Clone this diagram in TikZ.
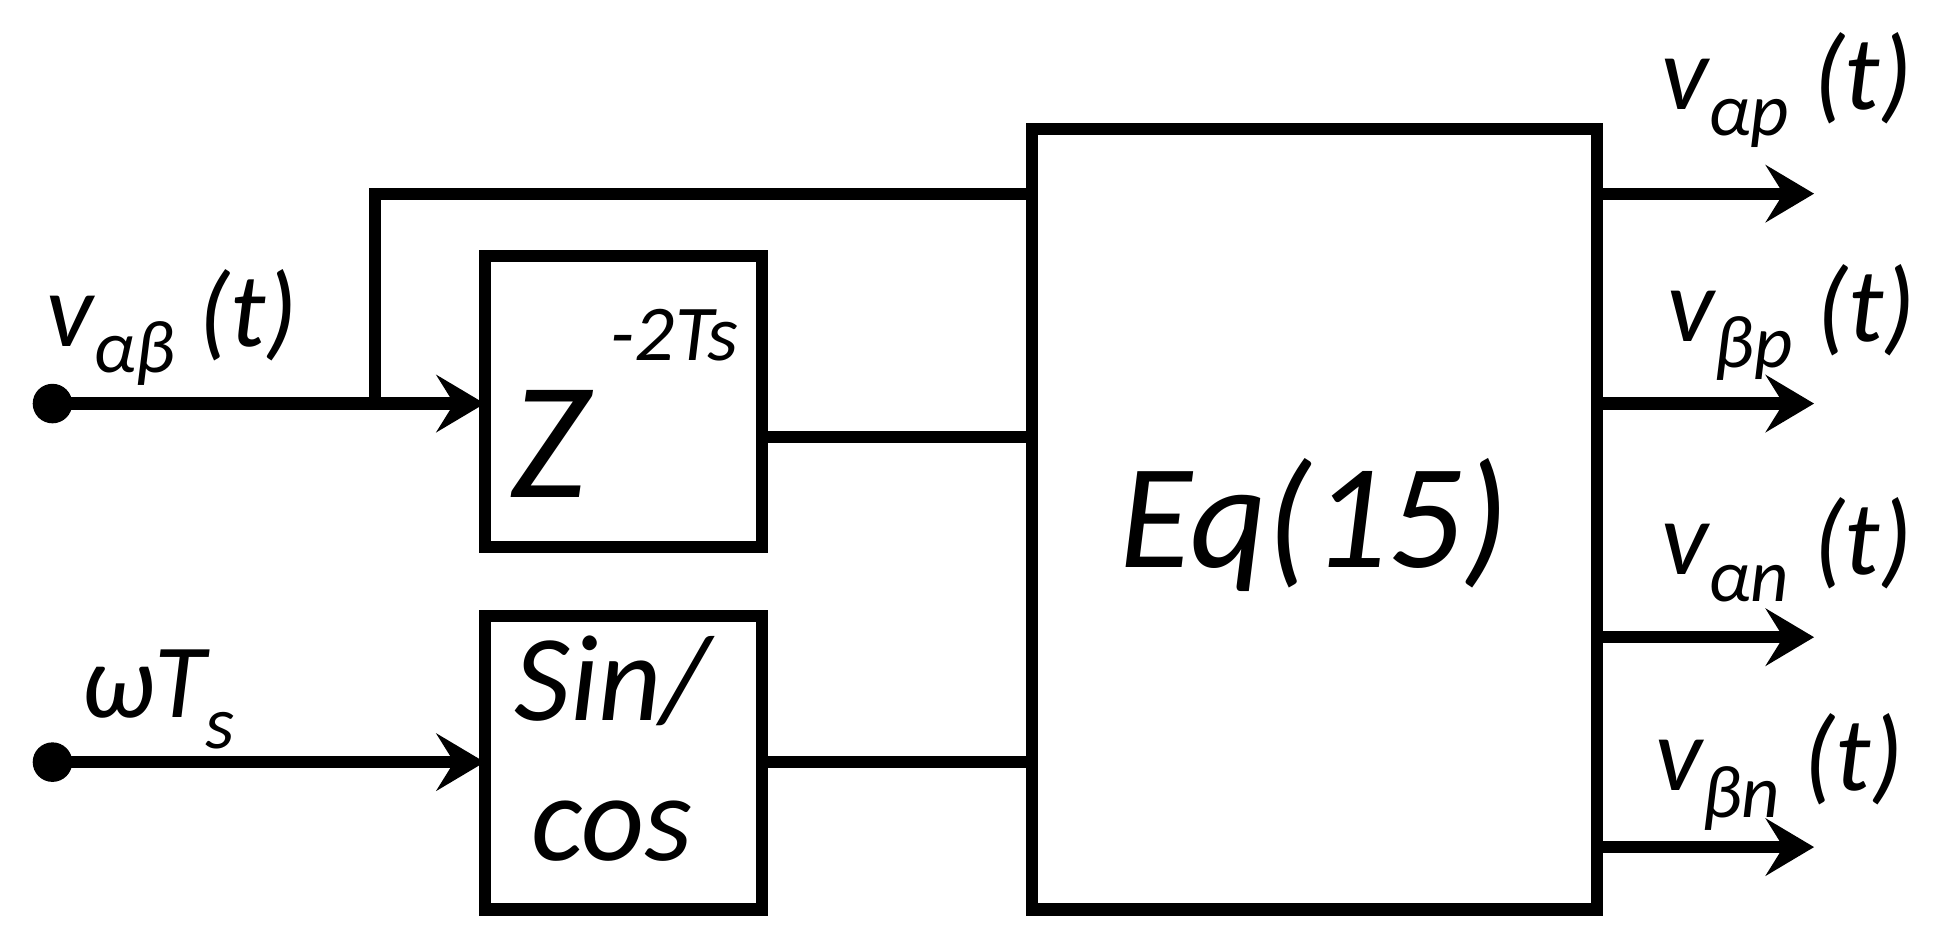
\documentclass[tikz,border=0pt]{standalone}
\usepackage{fontspec}
\setmainfont{Carlito}
\usetikzlibrary{arrows.meta}
\begin{document}
\begin{tikzpicture}[x=0.01cm,y=-0.01cm,
  line width=2.8pt,
  box/.style={draw,line width=2.8pt},
  arr/.style={-{Stealth[length=11pt,width=13pt,inset=4pt]}},
  lab/.style={font=\fontsize{24}{28}\selectfont\itshape,inner sep=0},
  sub/.style={},
  dot/.style={circle,fill,inner sep=0,minimum size=9pt}]
\useasboundingbox (0,0) rectangle (1560,750);
\draw[box] (826,103) rectangle (1278,728);
\node[lab,font=\fontsize{34}{38}\selectfont\itshape] at (1052,420) (eq) {Eq(15)};
\draw[box] (388,205) rectangle (610,438);
\draw[box] (388,493) rectangle (610,728);
\node[lab,font=\fontsize{38}{40}\selectfont\itshape] (z) at (440,355) {Z};
\node[lab,font=\fontsize{18}{20}\selectfont\itshape] (zs) at (540,268) {-2Ts};
\node[lab,font=\fontsize{28}{32}\selectfont\itshape] (s1) at (490,545) {Sin/};
\node[lab,font=\fontsize{28}{32}\selectfont\itshape] (s2) at (490,665) {cos};
\node[dot] (i1) at (42,323) {};
\node[dot] (i2) at (42,610) {};
\coordinate (zin) at (388,323);
\coordinate (sin) at (388,610);
\coordinate (b) at (300,323);
\draw[arr] (i1.center) -- (zin);
\draw[arr] (i2.center) -- (sin);
\draw (b) -- (300,155) -- (826,155);
\draw (610,350) -- (826,350);
\draw (610,610) -- (826,610);
\foreach \y in {155,323,510,678} \draw[arr] (1278,\y) -- (1452,\y);
\node[lab,anchor=west] (l1) at (32,262) {v\raisebox{-6pt}{\fontsize{17}{20}\selectfont αβ} (t)};
\node[lab,anchor=west] (l2) at (60,560) {ωT\raisebox{-7pt}{\fontsize{17}{20}\selectfont s}};
\node[lab,anchor=west] (o1) at (1325,72) {v\raisebox{-6pt}{\fontsize{17}{20}\selectfont αp} (t)};
\node[lab,anchor=west] (o2) at (1330,258) {v\raisebox{-6pt}{\fontsize{17}{20}\selectfont βp} (t)};
\node[lab,anchor=west] (o3) at (1325,440) {v\raisebox{-6pt}{\fontsize{17}{20}\selectfont αn} (t)};
\node[lab,anchor=west] (o4) at (1320,618) {v\raisebox{-6pt}{\fontsize{17}{20}\selectfont βn} (t)};
\end{tikzpicture}
\end{document}
